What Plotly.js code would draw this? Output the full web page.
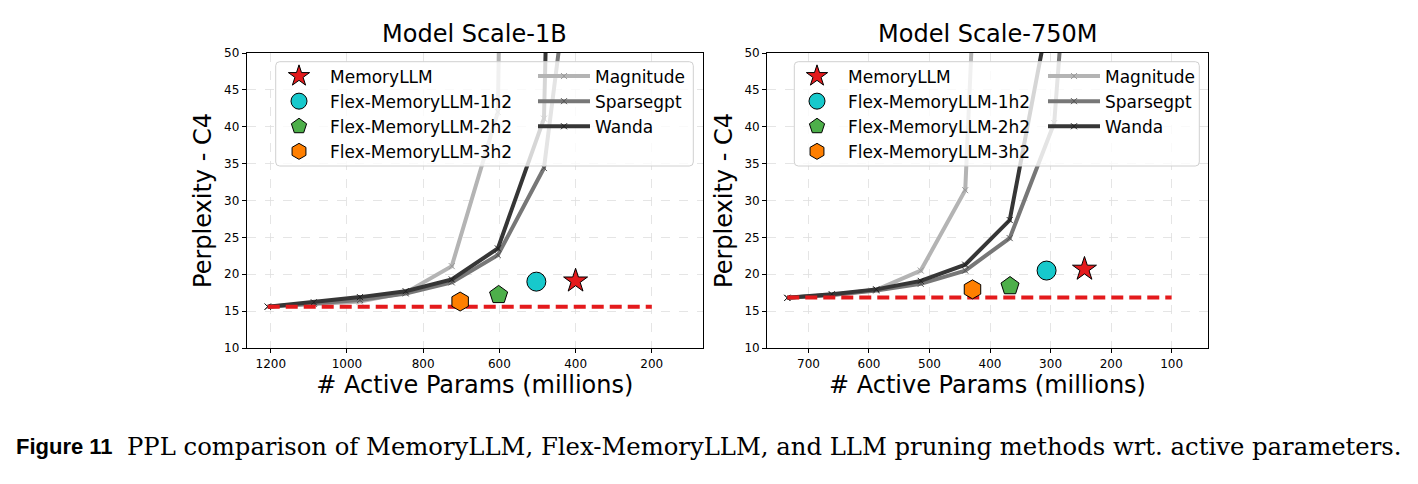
<!DOCTYPE html>
<html>
<head>
<meta charset="utf-8">
<script src="https://cdn.plot.ly/plotly-3.0.1.min.js"></script>
<style>
html,body{margin:0;padding:0;background:#fff;}
#chart{width:1418px;height:484px;}
</style>
</head>
<body>
<div id="chart"></div>
<script>
// ---------------- data ----------------
// Model Scale-1B
const paramsA = [1208, 1087, 966, 846, 725, 604, 483, 362];
const magnitudeA = [15.6, 16.0, 16.3, 17.5, 21.1, 42.0, 450];
const sparsegptA = [15.6, 16.0, 16.5, 17.4, 18.9, 22.6, 34.4, 84];
const wandaA = [15.6, 16.2, 16.9, 17.7, 19.3, 23.5, 41.1, 300];
const baselineXA = [1208, 200];
const baselineYA = [15.6, 15.6];
const memoryA = {x: [400], y: [19.1]};
const flex1A = {x: [503], y: [19.0]};
const flex2A = {x: [602], y: [17.2]};
const flex3A = {x: [703], y: [16.3]};
const ticksA = [1200, 1000, 800, 600, 400, 200];

// Model Scale-750M
const paramsB = [735, 661.5, 588, 514.5, 441, 367.5, 294, 220.5];
const magnitudeB = [16.8, 17.2, 17.9, 20.5, 31.4, 168];
const sparsegptB = [16.8, 17.2, 17.8, 18.7, 20.5, 24.9, 40.5, 120];
const wandaB = [16.8, 17.3, 17.95, 19.1, 21.3, 27.35, 59.1];
const baselineXB = [735, 100];
const baselineYB = [16.85, 16.85];
const memoryB = {x: [244], y: [20.7]};
const flex1B = {x: [306.6], y: [20.5]};
const flex2B = {x: [367], y: [18.4]};
const flex3B = {x: [429], y: [17.95]};
const ticksB = [700, 600, 500, 400, 300, 200, 100];

const yTicks = [10, 15, 20, 25, 30, 35, 40, 45, 50];
const titles = ['Model Scale-1B', 'Model Scale-750M'];
const xTitle = '# Active Params (millions)';
const yTitle = 'Perplexity - C4';
const captionBold = 'Figure 11';
const captionText = 'PPL comparison of MemoryLLM, Flex-MemoryLLM, and LLM pruning methods wrt. active parameters.';

// ---------------- layout helpers ----------------
const W = 1418, H = 484;
const px = v => v / W;
const py = v => 1 - v / H;
const FONT = 'DejaVu Sans, sans-serif';

const lineStyles = {
  Magnitude: {color: '#b4b4b4', mk: '#999999'},
  Sparsegpt: {color: '#777777', mk: '#555555'},
  Wanda: {color: '#363636', mk: '#1e1e1e'}
};
const pointStyles = [
  {name: 'MemoryLLM', symbol: 'star', color: '#e41a1c', size: 18},
  {name: 'Flex-MemoryLLM-1h2', symbol: 'circle', color: '#17c9cc', size: 19},
  {name: 'Flex-MemoryLLM-2h2', symbol: 'pentagon', color: '#4daf4a', size: 19},
  {name: 'Flex-MemoryLLM-3h2', symbol: 'hexagon', color: '#ff7f00', size: 19}
];

function buildTraces(sfx, params, mag, sp, wa, bx, by, pts, legA, legB) {
  const xa = 'x' + sfx, ya = 'y' + sfx;
  const traces = [];
  const series = [['Magnitude', mag], ['Sparsegpt', sp], ['Wanda', wa]];
  series.forEach(([name, vals]) => {
    const st = lineStyles[name];
    traces.push({
      type: 'scatter', mode: 'lines+markers', name: name,
      x: params.slice(0, vals.length), y: vals,
      xaxis: xa, yaxis: ya, legend: legB,
      line: {color: st.color, width: 4},
      marker: {symbol: 'x-thin', size: 6, line: {color: st.mk, width: 1}, color: st.mk}
    });
  });
  traces.push({
    type: 'scatter', mode: 'lines', x: bx, y: by, xaxis: xa, yaxis: ya,
    showlegend: false, hoverinfo: 'skip',
    line: {color: '#e41a1c', width: 4, dash: '12px,6px'}
  });
  pointStyles.forEach((ps, i) => {
    traces.push({
      type: 'scatter', mode: 'markers', name: ps.name,
      x: pts[i].x, y: pts[i].y, xaxis: xa, yaxis: ya, legend: legA,
      marker: {symbol: ps.symbol, size: ps.size, color: ps.color, line: {color: '#000', width: 1}}
    });
  });
  return traces;
}

const traces = [].concat(
  buildTraces('', paramsA, magnitudeA, sparsegptA, wandaA, baselineXA, baselineYA,
              [memoryA, flex1A, flex2A, flex3A], 'legend', 'legend2'),
  buildTraces('2', paramsB, magnitudeB, sparsegptB, wandaB, baselineXB, baselineYB,
              [memoryB, flex1B, flex2B, flex3B], 'legend3', 'legend4')
);

function xAxis(dom, range, ticks) {
  return {
    domain: dom, range: range, tickvals: ticks, ticktext: ticks.map(String),
    showline: true, linecolor: '#000', linewidth: 1.2, mirror: true,
    ticks: 'outside', ticklen: 4, tickwidth: 1, tickcolor: '#000',
    showgrid: true, gridcolor: '#dedede', griddash: 'dash', gridwidth: 0.8,
    zeroline: false, tickfont: {family: FONT, size: 12, color: '#000'},
    title: {text: xTitle, font: {family: FONT, size: 24, color: '#000'}, standoff: 4}
  };
}
function yAxis(anchor) {
  return {
    domain: [py(348), py(53)], range: [10, 50], tickvals: yTicks, anchor: anchor,
    showline: true, linecolor: '#000', linewidth: 1.2, mirror: true,
    ticks: 'outside', ticklen: 4, tickwidth: 1, tickcolor: '#000',
    showgrid: true, gridcolor: '#dedede', griddash: 'dash', gridwidth: 0.8,
    zeroline: false, tickfont: {family: FONT, size: 12, color: '#000'},
    title: {text: yTitle, font: {family: FONT, size: 24, color: '#000'}, standoff: 5}
  };
}

function legendCfg(x, y) {
  return {
    x: px(x), y: py(y), xanchor: 'left', yanchor: 'top',
    bgcolor: 'rgba(0,0,0,0)', borderwidth: 0,
    font: {family: FONT, size: 17, color: '#000'},
    itemwidth: 52, traceorder: 'normal', itemclick: false
  };
}

function roundRect(x0, y0, x1, y1, r) {
  const rx = r / W, ry = r / H;
  const X0 = px(x0), X1 = px(x1), Y0 = py(y0), Y1 = py(y1); // Y0 top (larger)
  return `M${X0 + rx},${Y0} L${X1 - rx},${Y0} Q${X1},${Y0} ${X1},${Y0 - ry} ` +
         `L${X1},${Y1 + ry} Q${X1},${Y1} ${X1 - rx},${Y1} L${X0 + rx},${Y1} ` +
         `Q${X0},${Y1} ${X0},${Y1 + ry} L${X0},${Y0 - ry} Q${X0},${Y0} ${X0 + rx},${Y0} Z`;
}

const layout = {
  width: W, height: H,
  margin: {l: 0, r: 0, t: 0, b: 0},
  paper_bgcolor: '#fff', plot_bgcolor: '#fff',
  font: {family: FONT, color: '#000'},
  xaxis: xAxis([px(247), px(702.7)], [1262.4, 66.4], ticksA),
  yaxis: yAxis('x'),
  xaxis2: Object.assign(xAxis([px(767.3), px(1207.7)], [768, 40.4], ticksB), {anchor: 'y2'}),
  yaxis2: yAxis('x2'),
  legend: legendCfg(268, 58.5),
  legend2: legendCfg(533, 58.5),
  legend3: legendCfg(786, 58.5),
  legend4: legendCfg(1043, 58.5),
  shapes: [
    {type: 'path', xref: 'paper', yref: 'paper', layer: 'above',
     path: roundRect(275.7, 61.7, 693.3, 166, 4),
     fillcolor: 'rgba(255,255,255,0.8)', line: {color: '#d0d0d0', width: 1}},
    {type: 'path', xref: 'paper', yref: 'paper', layer: 'above',
     path: roundRect(794.3, 61.7, 1199.3, 166, 4),
     fillcolor: 'rgba(255,255,255,0.8)', line: {color: '#d0d0d0', width: 1}}
  ],
  annotations: [
    {text: titles[0], xref: 'paper', yref: 'paper', x: px(474.9), y: py(50),
     xanchor: 'center', yanchor: 'bottom', showarrow: false,
     font: {family: FONT, size: 24, color: '#000'}},
    {text: titles[1], xref: 'paper', yref: 'paper', x: px(987.5), y: py(50),
     xanchor: 'center', yanchor: 'bottom', showarrow: false,
     font: {family: FONT, size: 24, color: '#000'}},
    {text: '<b>' + captionBold + '</b>', xref: 'paper', yref: 'paper', x: px(14), y: py(446),
     xanchor: 'left', yanchor: 'middle', showarrow: false,
     font: {family: 'Liberation Sans, Arial, sans-serif', size: 22, color: '#000'}},
    {text: captionText, xref: 'paper', yref: 'paper', x: px(125), y: py(446),
     xanchor: 'left', yanchor: 'middle', showarrow: false,
     font: {family: 'DejaVu Serif, serif', size: 24.3, color: '#000'}}
  ]
};

Plotly.newPlot('chart', traces, layout, {displayModeBar: false, staticPlot: true});
</script>
</body>
</html>
